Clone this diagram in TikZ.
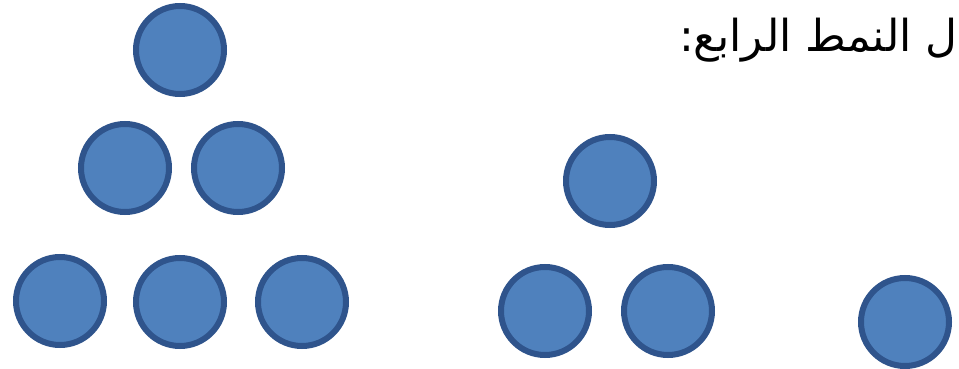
\documentclass[tikz,border=0pt]{standalone}
\usepackage{fontspec}
\newfontfamily\arabicfont[Script=Arabic]{DejaVu Sans}
\TeXXeTstate=1
\definecolor{dotfill}{RGB}{79,129,189}
\definecolor{dotline}{RGB}{47,84,140}
\begin{document}
\begin{tikzpicture}[x=1pt,y=-1pt,
  dot/.style={circle,draw=dotline,fill=dotfill,line width=6pt,minimum size=88pt,inner sep=0pt}]
\useasboundingbox (0,0) rectangle (959,369);
% left triangle
\node[dot] (a1) at (180,50) {};
\node[dot] (a2) at (125,168) {};
\node[dot] (a3) at (238,168) {};
\node[dot] (a4) at (60,301) {};
\node[dot] (a5) at (180,302) {};
\node[dot] (a6) at (302,302) {};
% middle
\node[dot] (b1) at (610,181) {};
\node[dot] (b2) at (545,311) {};
\node[dot] (b3) at (668,311) {};
% right
\node[dot] (c1) at (905,322) {};
% text
\node[anchor=base east,inner sep=0pt,font=\arabicfont\fontsize{44}{48}\selectfont] (t) at (958,52) {\beginR ل النمط الرابع:\endR};
\end{tikzpicture}
\end{document}
